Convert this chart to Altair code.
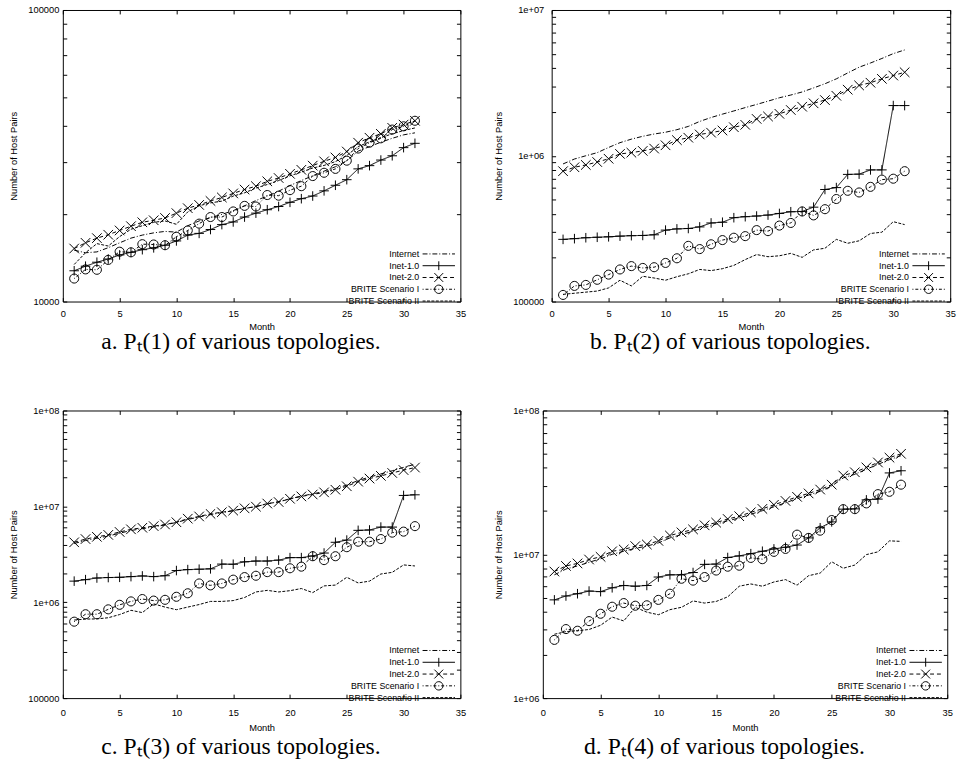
import math
import altair as alt
import pandas as pd

MONTHS = list(range(1, 32))
SERIES = ["Internet", "Inet-1.0", "Inet-2.0", "BRITE Scenario I", "BRITE Scenario II"]

# ---- panel a: P_t(1)
A_INTERNET = [15000, 14700, 14800, 15300, 15900, 16500, 16900, 17200, 17400, 17300, 18200, 18900, 19400, 19900, 20500, 21300,
              22200, 23000, 23900, 25000, 26000, 27000, 28000, 29000, 30400, 32800, 34000, 35200, 36300, 37300, 37900]
A_INET1 = [12750, 13220, 13640, 13990, 14450, 14750, 15060, 15280, 15600, 16140, 16900, 17130, 17660, 18360, 18750, 19490,
           20100, 20650, 21180, 21890, 22530, 23010, 23970, 25050, 26180, 28510, 29250, 30570, 31620, 33720, 34890]
A_INET2 = [15200, 15900, 16500, 16950, 17530, 18130, 18700, 19000, 19350, 20100, 20900, 21450, 22130, 22750, 23490, 24220,
           24870, 25840, 26530, 27420, 28300, 29250, 30270, 31200, 32700, 35060, 36460, 37600, 39430, 40440, 41690]
A_BRITE1 = [11990, 12890, 12850, 13890, 14820, 14750, 15730, 15690, 15600, 16680, 17530, 18500, 19490, 19490, 20370, 21290,
            21180, 23190, 23070, 24100, 24870, 26940, 27650, 28510, 30420, 33480, 35060, 36290, 38890, 39900, 41690]
A_BRITE2 = [13400, 14700, 15800, 15500, 16700, 17700, 18200, 18700, 18900, 18400, 20300, 21300, 21800, 22100, 23000, 23600,
            24500, 25200, 26000, 27000, 27800, 28700, 29300, 30200, 31700, 34000, 35300, 36500, 37600, 38600, 39400]

# ---- panel b: P_t(2)
B_INTERNET = [879000, 950000, 1.0e6, 1.05e6, 1.14e6, 1.23e6, 1.30e6, 1.36e6, 1.41e6, 1.45e6, 1.51e6, 1.59e6, 1.72e6, 1.83e6,
              1.93e6, 2.03e6, 2.14e6, 2.25e6, 2.37e6, 2.50e6, 2.61e6, 2.74e6, 2.92e6, 3.12e6, 3.37e6, 3.70e6, 4.05e6, 4.33e6,
              4.65e6, 5.02e6, 5.32e6]
B_INET1 = [2.67e5, 2.70e5, 2.74e5, 2.76e5, 2.78e5, 2.81e5, 2.83e5, 2.84e5, 2.87e5, 3.09e5, 3.15e5, 3.17e5, 3.25e5, 3.46e5,
           3.50e5, 3.76e5, 3.82e5, 3.86e5, 3.92e5, 4.02e5, 4.13e5, 4.15e5, 4.44e5, 5.87e5, 6.05e5, 7.45e5, 7.48e5, 8.00e5,
           8.00e5, 2.21e6, 2.21e6]
B_INET2 = [7.84e5, 8.34e5, 8.65e5, 9.06e5, 9.54e5, 1.03e6, 1.05e6, 1.08e6, 1.12e6, 1.18e6, 1.28e6, 1.33e6, 1.40e6, 1.44e6,
           1.49e6, 1.57e6, 1.63e6, 1.79e6, 1.86e6, 1.94e6, 2.06e6, 2.17e6, 2.29e6, 2.41e6, 2.58e6, 2.84e6, 3.04e6, 3.17e6,
           3.37e6, 3.55e6, 3.74e6]
B_BRITE1 = [1.11e5, 1.28e5, 1.30e5, 1.41e5, 1.53e5, 1.66e5, 1.75e5, 1.70e5, 1.72e5, 1.84e5, 1.98e5, 2.41e5, 2.29e5, 2.47e5,
            2.64e5, 2.74e5, 2.81e5, 3.09e5, 3.04e5, 3.32e5, 3.46e5, 4.15e5, 3.90e5, 4.30e5, 5.05e5, 5.75e5, 5.60e5, 6.12e5,
            6.86e5, 6.96e5, 7.84e5]
B_BRITE2 = [1.12e5, 1.14e5, 1.16e5, 1.18e5, 1.24e5, 1.40e5, 1.28e5, 1.49e5, 1.45e5, 1.40e5, 1.48e5, 1.55e5, 1.66e5, 1.63e5,
            1.68e5, 1.77e5, 1.94e5, 2.10e5, 2.03e5, 2.06e5, 2.14e5, 2.01e5, 2.26e5, 2.32e5, 2.67e5, 2.51e5, 2.61e5, 2.93e5,
            2.99e5, 3.53e5, 3.37e5]

# ---- panel c: P_t(3)
C_INTERNET = [4.1e6, 4.4e6, 4.65e6, 4.9e6, 5.25e6, 5.6e6, 5.85e6, 6.1e6, 6.4e6, 6.8e6, 7.3e6, 7.75e6, 8.2e6, 8.6e6, 9.0e6,
              9.5e6, 9.95e6, 1.06e7, 1.12e7, 1.20e7, 1.28e7, 1.35e7, 1.43e7, 1.53e7, 1.67e7, 1.86e7, 2.02e7, 2.18e7, 2.35e7,
              2.55e7, 2.75e7]
C_INET1 = [1.66e6, 1.72e6, 1.79e6, 1.81e6, 1.82e6, 1.85e6, 1.88e6, 1.85e6, 1.89e6, 2.14e6, 2.19e6, 2.21e6, 2.23e6, 2.50e6,
           2.49e6, 2.64e6, 2.69e6, 2.69e6, 2.75e6, 2.92e6, 2.92e6, 3.04e6, 3.26e6, 4.22e6, 4.45e6, 5.62e6, 5.67e6, 6.08e6,
           6.08e6, 1.30e7, 1.32e7]
C_INET2 = [4.22e6, 4.56e6, 4.81e6, 5.04e6, 5.41e6, 5.76e6, 5.98e6, 6.22e6, 6.47e6, 6.83e6, 7.44e6, 7.85e6, 8.36e6, 8.69e6,
           9.04e6, 9.54e6, 9.93e6, 1.07e7, 1.11e7, 1.20e7, 1.27e7, 1.33e7, 1.40e7, 1.49e7, 1.62e7, 1.81e7, 1.95e7, 2.08e7,
           2.23e7, 2.39e7, 2.54e7]
C_BRITE1 = [6.27e5, 7.50e5, 7.50e5, 8.43e5, 9.40e5, 1.02e6, 1.08e6, 1.04e6, 1.06e6, 1.14e6, 1.24e6, 1.57e6, 1.50e6, 1.57e6,
            1.72e6, 1.83e6, 1.89e6, 2.06e6, 2.06e6, 2.26e6, 2.35e6, 3.02e6, 2.75e6, 3.02e6, 3.75e6, 4.28e6, 4.28e6, 4.56e6,
            5.32e6, 5.45e6, 6.22e6]
C_BRITE2 = [6.52e5, 6.67e5, 6.70e5, 6.89e5, 7.44e5, 8.24e5, 7.80e5, 9.62e5, 8.90e5, 8.36e5, 8.90e5, 9.46e5, 1.02e6, 1.02e6,
            1.04e6, 1.12e6, 1.28e6, 1.33e6, 1.28e6, 1.32e6, 1.39e6, 1.26e6, 1.48e6, 1.51e6, 1.82e6, 1.59e6, 1.66e6, 1.97e6,
            2.05e6, 2.45e6, 2.39e6]

# ---- panel d: P_t(4)
D_INTERNET = [7.2e6, 7.9e6, 8.3e6, 8.8e6, 9.3e6, 1.0e7, 1.05e7, 1.1e7, 1.14e7, 1.2e7, 1.3e7, 1.37e7, 1.45e7, 1.54e7, 1.62e7,
              1.71e7, 1.79e7, 1.9e7, 2.01e7, 2.14e7, 2.28e7, 2.44e7, 2.58e7, 2.74e7, 2.98e7, 3.4e7, 3.6e7, 3.9e7, 4.22e7,
              4.55e7, 4.85e7]
D_INET1 = [4.82e6, 5.13e6, 5.32e6, 5.55e6, 5.50e6, 5.85e6, 6.07e6, 6.00e6, 6.07e6, 6.95e6, 7.20e6, 7.20e6, 7.47e6, 8.51e6,
           8.55e6, 9.50e6, 9.75e6, 1.01e7, 1.05e7, 1.09e7, 1.12e7, 1.16e7, 1.30e7, 1.53e7, 1.68e7, 2.06e7, 2.07e7, 2.39e7,
           2.42e7, 3.68e7, 3.81e7]
D_INET2 = [7.59e6, 8.30e6, 8.64e6, 9.20e6, 9.60e6, 1.05e7, 1.08e7, 1.14e7, 1.17e7, 1.24e7, 1.35e7, 1.42e7, 1.49e7, 1.59e7,
           1.66e7, 1.76e7, 1.84e7, 1.96e7, 2.07e7, 2.21e7, 2.35e7, 2.51e7, 2.65e7, 2.82e7, 3.05e7, 3.53e7, 3.72e7, 4.02e7,
           4.35e7, 4.70e7, 5.00e7]
D_BRITE1 = [2.54e6, 3.02e6, 2.94e6, 3.43e6, 3.86e6, 4.32e6, 4.58e6, 4.39e6, 4.42e6, 4.82e6, 5.32e6, 6.76e6, 6.56e6, 6.95e6,
            7.71e6, 8.20e6, 8.33e6, 9.44e6, 9.25e6, 1.04e7, 1.09e7, 1.37e7, 1.30e7, 1.46e7, 1.73e7, 2.06e7, 2.06e7, 2.26e7,
            2.62e7, 2.72e7, 3.05e7]
D_BRITE2 = [2.78e6, 2.90e6, 2.94e6, 3.00e6, 3.21e6, 3.66e6, 3.44e6, 4.28e6, 3.96e6, 3.80e6, 4.12e6, 4.28e6, 4.74e6, 4.58e6,
            4.70e6, 5.06e6, 6.00e6, 6.22e6, 6.00e6, 6.42e6, 6.67e6, 6.10e6, 7.10e6, 7.40e6, 8.87e6, 8.00e6, 8.42e6, 9.95e6,
            1.04e7, 1.24e7, 1.23e7]

CAPTIONS = ["a. Pₜ(1) of various topologies.", "b. Pₜ(2) of various topologies.",
            "c. Pₜ(3) of various topologies.", "d. Pₜ(4) of various topologies."]
X_TICKS = [0, 5, 10, 15, 20, 25, 30, 35]

# ---- styles
DASHES = [[5, 2, 1, 2], [1, 0], [4, 3], [1, 2, 3, 2], [3, 1.5]]


def ring(r, n=20):
    pts = [(r * math.cos(2 * math.pi * k / n), r * math.sin(2 * math.pi * k / n)) for k in range(n)]
    return "M" + "L".join(f"{x:.3f},{y:.3f}" for x, y in pts) + "Z"


PLUS = "M-1,0L1,0M0,-1L0,1"
CROSS = "M-1,-1L1,1M-1,1L1,-1"
CIRCLE = ring(1.0)
MARKERS = {"Inet-1.0": (PLUS, 95), "Inet-2.0": (CROSS, 95), "BRITE Scenario I": (CIRCLE, 85)}

LEG_SIZE = 49
U = (LEG_SIZE ** 0.5) / 2   # px per path unit in the legend
HALF = 16.5 / U             # half length of the legend sample line
MK = 4.5 / U                # half size of legend markers
# zero-length (invisible) segments giving every legend entry the same height
EXTENT = f"M{-HALF:.3f},{-MK:.3f}L{-HALF:.3f},{-MK:.3f}M{-HALF:.3f},{MK:.3f}L{-HALF:.3f},{MK:.3f}"


def dashed_path(pattern):
    segs = []
    x = -HALF
    i = 0
    while x < HALF - 1e-9:
        step = pattern[i % len(pattern)] / U
        x2 = min(x + step, HALF)
        if i % 2 == 0 and step > 0:
            segs.append(f"M{x:.3f},0L{x2:.3f},0")
        x = x2
        i += 1
    return "".join(segs)


LEG_PATHS = [
    dashed_path(DASHES[0]) + EXTENT,
    f"M{-HALF:.3f},0L{HALF:.3f},0M0,{-MK:.3f}L0,{MK:.3f}" + EXTENT,
    dashed_path(DASHES[2]) + f"M{-MK:.3f},{-MK:.3f}L{MK:.3f},{MK:.3f}M{-MK:.3f},{MK:.3f}L{MK:.3f},{-MK:.3f}" + EXTENT,
    dashed_path(DASHES[3]) + ring(MK * 0.95) + EXTENT,
    dashed_path(DASHES[4]) + EXTENT,
]

FONT = "Liberation Sans"
LABEL_EXPR = ("abs(log(datum.value)/LN10 - round(log(datum.value)/LN10)) < 0.001 ? "
              "(datum.value >= 1000000 ? '1e+0' + round(log(datum.value)/LN10) : format(datum.value, 'd')) : ''")


def log_ticks(lo, hi):
    vals = []
    d = lo
    while d < hi * 1.0001:
        for m in range(1, 10):
            v = m * d
            if lo * 0.9999 <= v <= hi * 1.0001:
                vals.append(v)
        d *= 10
    return vals


def panel(series_values, ymin, ymax, caption, w, h, lab_pad, x_lab_pad, x_title_pad, cap_offset):
    rows = []
    for name, vals in zip(SERIES, series_values):
        for m, v in zip(MONTHS, vals):
            rows.append({"month": m, "value": v, "series": name})
    df = pd.DataFrame(rows)
    base = alt.Chart(df)

    xs = alt.Scale(domain=[0, 35], nice=False, zero=False)
    ys = alt.Scale(type="log", domain=[ymin, ymax], nice=False)
    yvals = log_ticks(ymin, ymax)

    x_main = alt.X("month:Q", scale=xs, axis=alt.Axis(
        values=X_TICKS, format="d", title="Month", tickSize=4, offset=-4, domain=False, grid=False,
        labelPadding=x_lab_pad, titlePadding=x_title_pad, labelFlush=False, tickColor="black"))
    y_main = alt.Y("value:Q", scale=ys, axis=alt.Axis(
        values=yvals, labelExpr=LABEL_EXPR, title="Number of Host Pairs", tickSize=4, offset=-4,
        domain=False, grid=False, labelPadding=lab_pad, titlePadding=9, labelFlush=False,
        labelOverlap=False, tickColor="black"))

    lines = base.mark_line(color="black", strokeWidth=1).encode(
        x=x_main, y=y_main,
        strokeDash=alt.StrokeDash("series:N", scale=alt.Scale(domain=SERIES, range=DASHES), legend=None),
    )
    layers = [lines]
    for name, (shape, size) in MARKERS.items():
        layers.append(
            base.transform_filter(alt.datum.series == name)
            .mark_point(shape=shape, size=size, filled=False, color="black", strokeWidth=1, opacity=1)
            .encode(x=alt.X("month:Q", scale=xs, axis=None), y=alt.Y("value:Q", scale=ys, axis=None))
        )

    x_top = alt.X("month:Q", scale=xs, axis=alt.Axis(
        values=X_TICKS, orient="top", labels=False, title=None, tickSize=4, offset=-4, domain=False,
        grid=False, tickColor="black", minExtent=0, maxExtent=0, labelPadding=0))
    y_right = alt.Y("value:Q", scale=ys, axis=alt.Axis(
        values=yvals, orient="right", labels=False, title=None, tickSize=4, offset=-4, domain=False,
        grid=False, tickColor="black"))
    ghost = base.transform_filter("false").mark_point(
        filled=False, color="black", size=LEG_SIZE, strokeWidth=1, opacity=1
    ).encode(
        x=x_top, y=y_right,
        shape=alt.Shape("series:N", scale=alt.Scale(domain=SERIES, range=LEG_PATHS), legend=alt.Legend(
            title=None, orient="none", legendX=w - 26.5, legendY=h - 53, labelAlign="right",
            labelOffset={"expr": "-24.5"}, symbolOffset=0, labelFont=FONT, labelFontSize=9, labelColor="black",
            rowPadding={"expr": "-6"}, padding=0, symbolSize=LEG_SIZE, symbolStrokeWidth=1,
            symbolStrokeColor="black", symbolFillColor="transparent", labelLimit=200)),
    )
    layers.append(ghost)

    return alt.layer(*layers).resolve_axis(x="independent", y="independent").properties(
        width=w, height=h,
        title=alt.TitleParams(caption, orient="bottom", anchor="middle", font="Liberation Serif",
                              fontSize=24, fontWeight="normal", color="black", dx=-21, offset=cap_offset),
    )


pa = panel([A_INTERNET, A_INET1, A_INET2, A_BRITE1, A_BRITE2], 1e4, 1e5, CAPTIONS[0], 405, 297, 4, 7, 4, -1)
pb = panel([B_INTERNET, B_INET1, B_INET2, B_BRITE1, B_BRITE2], 1e5, 1e7, CAPTIONS[1], 406, 297, 8, 7, 4, -1)
pc = panel([C_INTERNET, C_INET1, C_INET2, C_BRITE1, C_BRITE2], 1e5, 1e8, CAPTIONS[2], 405, 293, 4, 10, 5, 4)
pd_ = panel([D_INTERNET, D_INET1, D_INET2, D_BRITE1, D_BRITE2], 1e6, 1e8, CAPTIONS[3], 412, 293, 4, 10, 5, 4)

top = alt.hconcat(pa, pb, spacing=27).resolve_scale(shape="independent").resolve_legend(shape="independent")
bottom = alt.hconcat(pc, pd_, spacing=27).resolve_scale(shape="independent").resolve_legend(shape="independent")

chart = alt.vconcat(top, bottom, spacing=51).resolve_scale(shape="independent").resolve_legend(
    shape="independent"
).properties(
    padding={"left": 8, "top": -3, "right": 5, "bottom": 0}, background="white"
).configure_view(stroke="black", strokeWidth=1).configure_axis(
    labelFont=FONT, titleFont=FONT, labelFontSize=9.5, titleFontSize=9.5, titleFontWeight="normal",
    labelColor="black", titleColor="black",
)

chart.save("out.html", embed_options={"renderer": "svg", "actions": False})
